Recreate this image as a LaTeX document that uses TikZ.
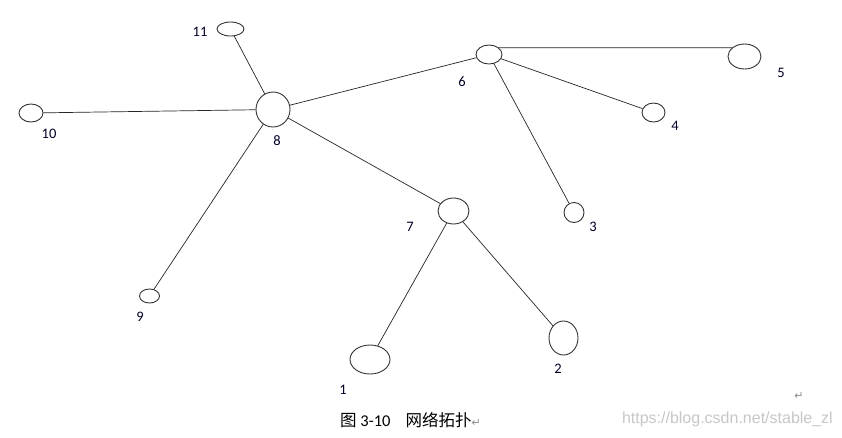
\documentclass[tikz,border=0pt]{standalone}
\usepackage{fontspec}
\setmainfont{Carlito}
\newfontfamily\cjkfont{Noto Sans CJK SC}
\newfontfamily\symfont{DejaVu Sans}
\newfontfamily\wmfont{Liberation Sans}
\usetikzlibrary{shapes.geometric}
\tikzset{
  host/.style={draw=black!80, line width=0.9pt, ellipse, inner sep=0pt},
  link/.style={draw=black!85, line width=0.7pt},
  num/.style={font=\fontsize{14.5}{14.5}\selectfont, text=black!85!blue, inner sep=0pt},
  retmark/.style={font=\symfont\fontsize{11}{11}\selectfont, text=black!45, inner sep=0pt}
}
\begin{document}
\begin{tikzpicture}[x=1pt,y=-1pt]
\useasboundingbox[fill=white] (0,0) rectangle (842,437);
% nodes
\node[host, minimum width=27pt, minimum height=14pt] (n11) at (230.5,29) {};
\node[host, minimum width=24pt, minimum height=18pt] (n10) at (31,113) {};
\node[host, minimum width=34pt, minimum height=35pt] (n8) at (273,109.5) {};
\node[host, minimum width=26pt, minimum height=19pt] (n6) at (489,54.5) {};
\node[host, minimum width=33pt, minimum height=25pt] (n5) at (744.5,56.5) {};
\node[host, minimum width=23pt, minimum height=19pt] (n4) at (653.5,112.5) {};
\node[host, minimum width=20pt, minimum height=20pt] (n3) at (574,212.5) {};
\node[host, minimum width=31pt, minimum height=26pt] (n7) at (453.5,211) {};
\node[host, minimum width=20pt, minimum height=14pt] (n9) at (149.5,296) {};
\node[host, minimum width=40pt, minimum height=29pt] (n1) at (370,359.5) {};
\node[host, minimum width=29pt, minimum height=34pt] (n2) at (563.5,338) {};
% labels
\node[num] (l11) at (200,32) {11};
\node[num] (l10) at (49,134) {10};
\node[num] (l8) at (277,141) {8};
\node[num] (l6) at (462,82) {6};
\node[num] (l5) at (781,73) {5};
\node[num] (l4) at (675,126) {4};
\node[num] (l3) at (593,227) {3};
\node[num] (l7) at (410,227) {7};
\node[num] (l9) at (140,317) {9};
\node[num] (l1) at (343,390) {1};
\node[num] (l2) at (558,369) {2};
% links
\draw[link] (n11) -- (n8);
\draw[link] (n10) -- (n8);
\draw[link] (n8) -- (n6);
\draw[link] (n8) -- (n9);
\draw[link] (n8) -- (n7);
\draw[link] (n6.35) -- (n5.145);
\draw[link] (n6) -- (n4);
\draw[link] (n6) -- (n3);
\draw[link] (n7) -- (n1);
\draw[link] (n7) -- (n2);
% caption
\node[anchor=west, inner sep=0pt, font=\fontsize{16.5}{16.5}\selectfont] (cap) at (340,420)
  {{\cjkfont 图} 3-10\hspace{15pt}{\cjkfont 网络拓扑}{\symfont\fontsize{11}{11}\selectfont\color{black!45}↵}};
\node[retmark] (ret) at (799,396) {↵};
\node[anchor=east, inner sep=0pt, font=\wmfont\fontsize{16}{16}\selectfont, text=black!22] (wm) at (833,419) {https://blog.csdn.net/stable\_zl};
\end{tikzpicture}
\end{document}
